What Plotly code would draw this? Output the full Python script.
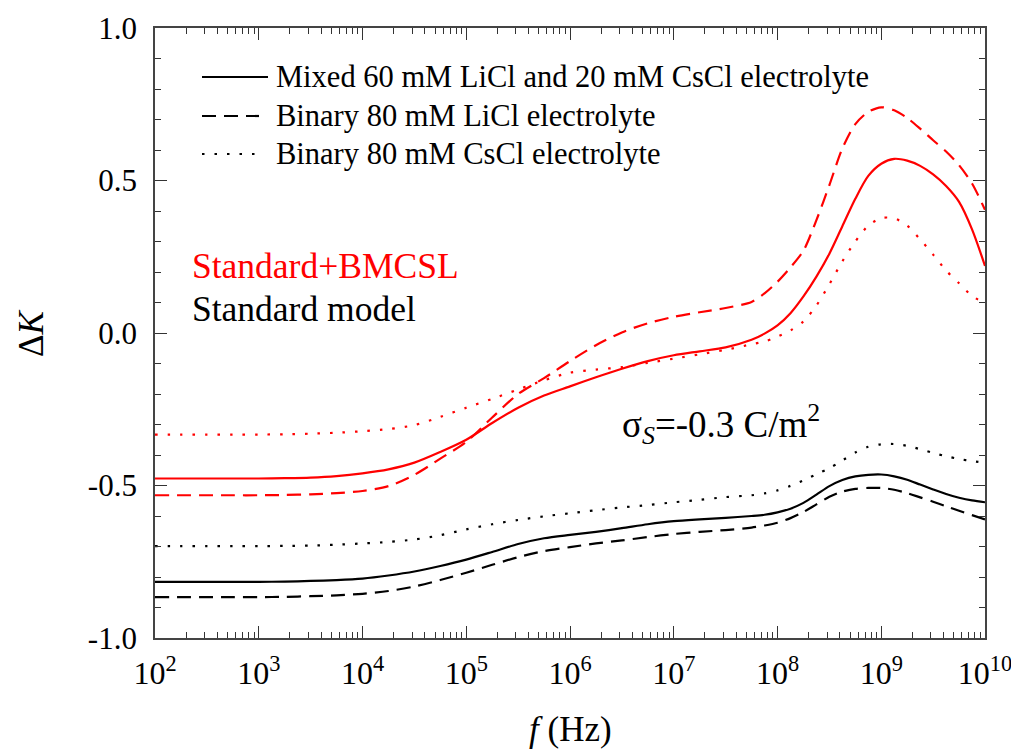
import plotly.graph_objects as go

# ---- data ----
log10_freq = [2, 2.25, 2.5, 2.75, 3, 3.25, 3.5, 3.75, 4, 4.25, 4.5, 4.75, 5, 5.25, 5.5, 5.75,
              6, 6.25, 6.5, 6.75, 7, 7.25, 7.5,
              7.75, 7.875, 8, 8.125, 8.25, 8.375, 8.5, 8.625, 8.75, 8.875, 9, 9.125, 9.25,
              9.375, 9.5, 9.625, 9.75, 9.875, 10]

bmcsl_mixed = [-0.477, -0.477, -0.477, -0.477, -0.477, -0.476, -0.474, -0.469, -0.46, -0.447,
               -0.425, -0.39, -0.35, -0.295, -0.245, -0.205, -0.175, -0.145, -0.117, -0.092,
               -0.073, -0.06, -0.047,
               -0.022, -0.002, 0.025, 0.065, 0.12, 0.185, 0.26, 0.35, 0.44, 0.515, 0.555, 0.571,
               0.565, 0.548, 0.52, 0.482, 0.43, 0.34, 0.22]
bmcsl_licl = [-0.532, -0.532, -0.532, -0.532, -0.532, -0.531, -0.529, -0.525, -0.518, -0.502,
              -0.465, -0.412, -0.357, -0.277, -0.2, -0.148, -0.092, -0.04, 0.002, 0.032,
              0.053, 0.068, 0.082,
              0.102, 0.13, 0.168, 0.215, 0.27, 0.37, 0.485, 0.605, 0.685, 0.725, 0.74, 0.73,
              0.705, 0.67, 0.632, 0.595, 0.55, 0.49, 0.404]
bmcsl_cscl = [-0.333, -0.333, -0.333, -0.333, -0.333, -0.332, -0.33, -0.327, -0.322, -0.315,
              -0.302, -0.275, -0.245, -0.216, -0.185, -0.155, -0.13, -0.12, -0.112, -0.098,
              -0.084, -0.07, -0.055,
              -0.037, -0.028, -0.012, 0.008, 0.038, 0.09, 0.16, 0.235, 0.30, 0.352, 0.377, 0.376,
              0.352, 0.307, 0.257, 0.205, 0.163, 0.122, 0.097]

std_mixed = [-0.816, -0.816, -0.816, -0.816, -0.816, -0.815, -0.813, -0.81, -0.805, -0.795,
             -0.782, -0.764, -0.743, -0.718, -0.692, -0.673, -0.662, -0.652, -0.64, -0.627,
             -0.617, -0.611, -0.606,
             -0.6, -0.596, -0.588, -0.576, -0.557, -0.53, -0.502, -0.482, -0.47, -0.465, -0.464,
             -0.47, -0.481, -0.497, -0.513, -0.528, -0.54, -0.549, -0.555]
std_licl = [-0.866, -0.866, -0.866, -0.866, -0.866, -0.865, -0.863, -0.86, -0.855, -0.846,
            -0.831, -0.81, -0.786, -0.76, -0.735, -0.715, -0.702, -0.69, -0.68, -0.669,
            -0.659, -0.652, -0.646,
            -0.638, -0.631, -0.622, -0.607, -0.587, -0.562, -0.537, -0.52, -0.511, -0.508, -0.508,
            -0.514, -0.525, -0.539, -0.553, -0.568, -0.583, -0.597, -0.611]
std_cscl = [-0.699, -0.699, -0.699, -0.699, -0.699, -0.698, -0.697, -0.694, -0.69, -0.685,
            -0.677, -0.663, -0.644, -0.627, -0.613, -0.601, -0.591, -0.581, -0.572, -0.564,
            -0.555, -0.547, -0.538,
            -0.532, -0.526, -0.516, -0.501, -0.483, -0.463, -0.443, -0.418, -0.392, -0.373, -0.365,
            -0.364, -0.37, -0.381, -0.393, -0.404, -0.413, -0.42, -0.425]

legend_labels = ["Mixed 60 mM LiCl and 20 mM CsCl electrolyte",
                 "Binary 80 mM LiCl electrolyte",
                 "Binary 80 mM CsCl electrolyte"]
x_tick_exponents = [2, 3, 4, 5, 6, 7, 8, 9, 10]
y_tick_values = [-1.0, -0.5, 0.0, 0.5, 1.0]

# ---- styling ----
FONT = "Liberation Serif"
RED = "#ff0000"
BLACK = "#000000"
SOLID = "solid"
DASH = "14px,8px"
DOT = "2.5px,10px"
W, H = 1011, 749
ML, MR, MT, MB = 155, 26, 28, 111
PW, PH = W - ML - MR, H - MT - MB


def px_x(p):
    return (p - ML) / PW


def px_y(p):
    return (H - MB - p) / PH


freq = [10 ** e for e in log10_freq]

fig = go.Figure()
series = [
    (bmcsl_mixed, RED, SOLID), (bmcsl_licl, RED, DASH), (bmcsl_cscl, RED, DOT),
    (std_mixed, BLACK, SOLID), (std_licl, BLACK, DASH), (std_cscl, BLACK, DOT),
]
for vals, col, dash in series:
    assert len(vals) == len(freq)
    fig.add_trace(go.Scatter(
        x=freq, y=vals, mode="lines",
        line=dict(color=col, width=2.2, dash=dash, shape="spline", smoothing=0.8),
        showlegend=False, hoverinfo="skip"))

minor_x = [k * 10 ** d for d in range(2, 10) for k in range(2, 10)]

fig.update_xaxes(
    type="log", range=[2, 10], automargin=False,
    tickvals=[10 ** e for e in x_tick_exponents],
    ticktext=[f"10<sup>{e}</sup>" for e in x_tick_exponents],
    ticks="inside", ticklen=12, tickwidth=1.3, tickcolor="#333",
    minor=dict(tickvals=minor_x, ticks="inside", ticklen=6, tickwidth=1.2, tickcolor="#333", showgrid=False),
    showline=True, linecolor="#444", linewidth=1.8, mirror="ticks",
    showgrid=False, zeroline=False,
    tickfont=dict(family=FONT, size=32, color="black"),
    ticklabelstandoff=6, ticklabeloverflow="allow",
)
fig.update_yaxes(
    range=[-1.0, 1.0], automargin=False,
    tickvals=y_tick_values,
    ticktext=[f"{v:.1f}" for v in y_tick_values],
    ticks="inside", ticklen=12, tickwidth=1.3, tickcolor="#333",
    minor=dict(dtick=0.1, tick0=0, ticks="inside", ticklen=6, tickwidth=1.2, tickcolor="#333", showgrid=False),
    showline=True, linecolor="#444", linewidth=1.8, mirror="ticks",
    showgrid=False, zeroline=False,
    tickfont=dict(family=FONT, size=31, color="black"),
    ticklabelstandoff=10,
)

annotations = []
shapes = []
# legend (drawn inside the plot area like the original)
leg_rows = [77, 116, 154]
leg_dashes = [SOLID, DASH, DOT]
leg_ends = [268, 259, 259]
for lab, row, dsh, end in zip(legend_labels, leg_rows, leg_dashes, leg_ends):
    shapes.append(dict(type="line", xref="paper", yref="paper",
                       x0=px_x(202), x1=px_x(end), y0=px_y(row), y1=px_y(row),
                       line=dict(color=BLACK, width=2.2, dash=dsh)))
    annotations.append(dict(text=lab, xref="paper", yref="paper", x=px_x(274), y=px_y(row),
                            xanchor="left", yanchor="middle", showarrow=False,
                            font=dict(family=FONT, size=30.5, color=BLACK)))

annotations += [
    dict(text="Standard+BMCSL", xref="paper", yref="paper", x=px_x(190), y=px_y(266),
         xanchor="left", yanchor="middle", showarrow=False, font=dict(family=FONT, size=35.5, color=RED)),
    dict(text="Standard model", xref="paper", yref="paper", x=px_x(190), y=px_y(309),
         xanchor="left", yanchor="middle", showarrow=False, font=dict(family=FONT, size=35.5, color=BLACK)),
    dict(text="σ<sub><i>S</i></sub>=-0.3 C/m<sup>2</sup>", xref="paper", yref="paper",
         x=px_x(620), y=px_y(424), xanchor="left", yanchor="middle", showarrow=False,
         font=dict(family=FONT, size=37, color=BLACK)),
    dict(text="Δ<i>K</i>", xref="paper", yref="paper", x=px_x(31), y=px_y(333),
         xanchor="center", yanchor="middle", textangle=-90, showarrow=False,
         font=dict(family=FONT, size=35, color=BLACK)),
    dict(text="<i>f</i> (Hz)", xref="paper", yref="paper", x=px_x(570), y=px_y(729),
         xanchor="center", yanchor="middle", showarrow=False,
         font=dict(family=FONT, size=35, color=BLACK)),
]

fig.update_layout(
    width=W, height=H,
    margin=dict(l=ML, r=MR, t=MT, b=MB, autoexpand=False),
    paper_bgcolor="white", plot_bgcolor="white",
    showlegend=False,
    annotations=annotations, shapes=shapes,
)

fig.write_html("out.html", config={"displayModeBar": False})
